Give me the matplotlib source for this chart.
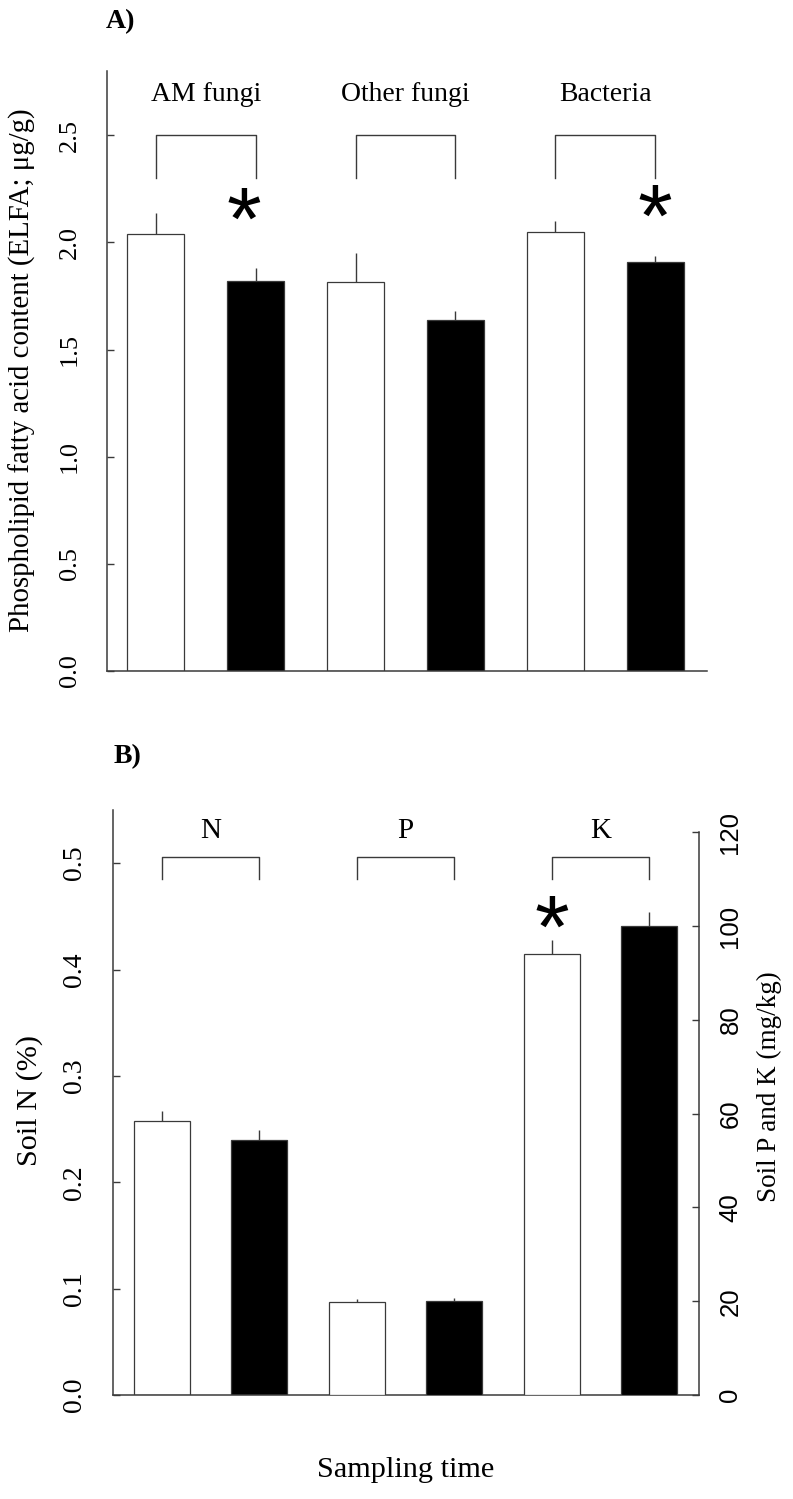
import numpy as np
import matplotlib
matplotlib.use("Agg")
import matplotlib.pyplot as plt

# panel A: phospholipid fatty acids
groups_a = ["AM fungi", "Other fungi", "Bacteria"]
white_a = [2.04, 1.815, 2.047]
white_a_err = [0.098, 0.135, 0.051]
black_a = [1.82, 1.636, 1.907]
black_a_err = [0.061, 0.046, 0.028]
star_a_x = [0.88, 5.0]
star_a_y = [2.18, 2.19]

# panel B: soil nutrients (N on left axis, P and K on right axis)
groups_b = ["N", "P", "K"]
n_white, n_white_err = 0.2575, 0.0095
n_black, n_black_err = 0.2397, 0.0095
pk_white = [19.8, 94.0]
pk_white_err = [0.6, 3.0]
pk_black = [20.0, 100.0]
pk_black_err = [0.6, 3.0]
star_b_x = [4.0]
star_b_y = [0.454]

W, H = 793, 1499
SERIF = "Liberation Serif"
SANS = "Liberation Sans"
LINE = "#3a3a3a"
BW = 0.57

fig = plt.figure(figsize=(W / 100, H / 100), dpi=100)


def px_axes(l, r, t, b):
    return fig.add_axes([l / W, 1 - b / H, (r - l) / W, (b - t) / H])


def style_axis(ax, fs):
    for s in ["top", "right"]:
        ax.spines[s].set_visible(False)
    for s in ["left", "bottom"]:
        ax.spines[s].set_color(LINE)
        ax.spines[s].set_linewidth(1.1)
    ax.set_xticks([])
    ax.tick_params(axis="y", direction="in", length=5, width=1.0, color=LINE,
                   pad=19, labelsize=fs, labelrotation=90)
    for lab in ax.get_yticklabels():
        lab.set_fontfamily(SERIF)
        lab.set_va("center")


def star(ax, x, y, fs=64):
    ax.annotate("*", (x, y), xytext=(0, -0.50 * fs), textcoords="offset points",
                ha="center", va="baseline", fontsize=fs, family=SANS)


def bracket(ax, x0, x1, ylo, yhi):
    ax.plot([x0, x0, x1, x1], [ylo, yhi, yhi, ylo], color=LINE, lw=1.0)


# ---------------- panel A ----------------
ax = px_axes(107, 707, 71, 671)
xw = np.arange(3) * 2
xb = xw + 1
ax.bar(xw, white_a, BW, color="white", edgecolor=LINE, linewidth=0.9)
ax.bar(xb, black_a, BW, color="black", edgecolor=LINE, linewidth=0.9)
ax.errorbar(xw, white_a, yerr=[np.zeros(3), white_a_err], fmt="none", ecolor=LINE, elinewidth=1.0, capsize=0)
ax.errorbar(xb, black_a, yerr=[np.zeros(3), black_a_err], fmt="none", ecolor=LINE, elinewidth=1.0, capsize=0)
ax.set_xlim(-0.49, 5.52)
ax.set_ylim(0, 2.8)
ax.set_yticks([0.0, 0.5, 1.0, 1.5, 2.0, 2.5])
ax.set_yticklabels(["0.0", "0.5", "1.0", "1.5", "2.0", "2.5"])
style_axis(ax, 19)
for i, g in enumerate(groups_a):
    bracket(ax, xw[i], xb[i], 2.3, 2.5)
    ax.text((xw[i] + xb[i]) / 2, 2.66, g, ha="center", va="baseline", fontsize=20, family=SERIF)
for x, y in zip(star_a_x, star_a_y):
    star(ax, x, y)

fig.text(22 / W, 1 - 370 / H, "Phospholipid fatty acid content (ELFA; μg/g)",
         rotation=90, ha="center", va="center", fontsize=20.8, family=SERIF)
fig.text(120 / W, 1 - 22 / H, "A)", ha="center", va="center", fontsize=20, family=SERIF, weight="bold")

# ---------------- panel B ----------------
ax = px_axes(113, 699, 810, 1395)
ax.bar([0], [n_white], BW, color="white", edgecolor=LINE, linewidth=0.9)
ax.bar([1], [n_black], BW, color="black", edgecolor=LINE, linewidth=0.9)
ax.errorbar([0, 1], [n_white, n_black], yerr=[[0, 0], [n_white_err, n_black_err]], fmt="none",
            ecolor=LINE, elinewidth=1.0, capsize=0)
ax.set_xlim(-0.5, 5.51)
ax.set_ylim(0, 0.55)
ax.set_yticks([0.0, 0.1, 0.2, 0.3, 0.4, 0.5])
ax.set_yticklabels(["0.0", "0.1", "0.2", "0.3", "0.4", "0.5"])
style_axis(ax, 20)

ax2 = ax.twinx()
pw = np.array([2, 4])
ax2.bar(pw, pk_white, BW, color="white", edgecolor=LINE, linewidth=0.9)
ax2.bar(pw + 1, pk_black, BW, color="black", edgecolor=LINE, linewidth=0.9)
ax2.errorbar(pw, pk_white, yerr=[[0, 0], pk_white_err], fmt="none", ecolor=LINE, elinewidth=1.0, capsize=0)
ax2.errorbar(pw + 1, pk_black, yerr=[[0, 0], pk_black_err], fmt="none", ecolor=LINE, elinewidth=1.0, capsize=0)
ax2.set_ylim(0, 0.55 * 1064 / 4.69)
ax2.set_xlim(-0.5, 5.51)
for s in ["top", "left", "bottom"]:
    ax2.spines[s].set_visible(False)
ax2.spines["right"].set_color(LINE)
ax2.spines["right"].set_linewidth(1.1)
ax2.spines["right"].set_bounds(0, 120)
ax2.set_yticks([0, 20, 40, 60, 80, 100, 120])
ax2.tick_params(axis="y", direction="in", length=5, width=1.0, color=LINE,
                pad=14, labelsize=18.5, labelrotation=90)
for lab in ax2.get_yticklabels():
    lab.set_fontfamily(SANS)
    lab.set_va("center")

for i, g in enumerate(groups_b):
    bracket(ax, 2 * i, 2 * i + 1, 0.485, 0.506)
    ax.text(2 * i + 0.5, 0.524, g, ha="center", va="baseline", fontsize=21, family=SERIF)
for x, y in zip(star_b_x, star_b_y):
    star(ax, x, y)

fig.text(30 / W, 1 - 1101 / H, "Soil N (%)", rotation=90, ha="center", va="center",
         fontsize=21.8, family=SERIF)
fig.text(769 / W, 1 - 1087 / H, "Soil P and K (mg/kg)", rotation=90, ha="center", va="center",
         fontsize=19.5, family=SERIF)
fig.text(406 / W, 1 - 1470 / H, "Sampling time", ha="center", va="center", fontsize=21.8, family=SERIF)
fig.text(128 / W, 1 - 757 / H, "B)", ha="center", va="center", fontsize=20, family=SERIF, weight="bold")

fig.savefig("out.png", dpi=100)
